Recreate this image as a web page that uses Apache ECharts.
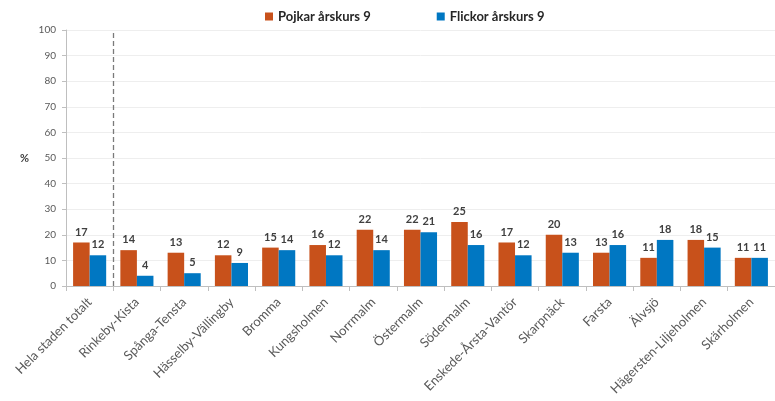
<!DOCTYPE html>
<html>
<head>
<meta charset="utf-8">
<script src="https://cdn.jsdelivr.net/npm/echarts@6/dist/echarts.min.js"></script>
<style>html,body{margin:0;padding:0;background:#fff;}#c{width:775px;height:401px;}</style>
</head>
<body>
<div id="c"></div>
<script>
var categories = ["Hela staden totalt","Rinkeby-Kista","Spånga-Tensta","Hässelby-Vällingby","Bromma","Kungsholmen","Norrmalm","Östermalm","Södermalm","Enskede-Årsta-Vantör","Skarpnäck","Farsta","Älvsjö","Hägersten-Liljeholmen","Skärholmen"];
var pojkar = [17,14,13,12,15,16,22,22,25,17,20,13,11,18,11];
var flickor = [12,4,5,9,14,12,14,21,16,12,13,16,18,15,11];
var seriesNames = ["Pojkar årskurs 9","Flickor årskurs 9"];
var yTicks = {min:0,max:100,interval:10};
var separatorAfter = [1]; // dashed divider after the first category (category index boundary)

var font = "Lato, 'Open Sans', sans-serif";
var chart = echarts.init(document.getElementById('c'));
var labelCfg = {show:true, position:'top', distance:5, color:'#404040', fontSize:11, fontWeight:'bold', fontFamily:font};
chart.setOption({
  animation:false,
  textStyle:{fontFamily:font},
  legend:{
    top:5, left:260, icon:'rect', itemWidth:8, itemHeight:8, itemGap:66, itemStyle:{borderWidth:0},
    textStyle:{fontSize:13, fontWeight:'bold', color:'#262626', fontFamily:font},
    data:seriesNames
  },
  grid:{left:66, right:-5, top:30, bottom:115, containLabel:false},
  xAxis:[{
    type:'category', data:categories, boundaryGap:true,
    axisLine:{lineStyle:{color:'#BFBFBF'}},
    axisTick:{show:true, length:5, lineStyle:{color:'#BFBFBF'}},
    axisLabel:{rotate:45, interval:0, fontSize:13, color:'#595959', margin:14, fontFamily:font}
  },{
    type:'value', min:0, max:categories.length, show:false
  }],
  yAxis:{
    type:'value', min:yTicks.min, max:yTicks.max, interval:yTicks.interval,
    name:'%', nameLocation:'middle', nameGap:37, nameRotate:0,
    nameTextStyle:{fontSize:11, fontWeight:'bold', color:'#404040'},
    axisLine:{show:true, lineStyle:{color:'#BFBFBF'}},
    axisTick:{show:true, length:4, lineStyle:{color:'#BFBFBF'}},
    axisLabel:{fontSize:10, color:'#595959', margin:10},
    splitLine:{lineStyle:{color:'#EEEEEE'}}
  },
  series:[
    {name:seriesNames[0], type:'bar', data:pojkar, barGap:'0%', barCategoryGap:'30%', itemStyle:{color:'#C8511B'}, label:labelCfg},
    {name:seriesNames[1], type:'bar', data:flickor, itemStyle:{color:'#0077C2'}, label:labelCfg},
    {type:'line', xAxisIndex:1, data:[], silent:true,
      markLine:{silent:true, symbol:'none', label:{show:false},
        lineStyle:{type:[5,3], color:'#7A7A7A', width:1.3},
        data:separatorAfter.map(function(v){return {xAxis:v};})}}
  ]
});
</script>
</body>
</html>
